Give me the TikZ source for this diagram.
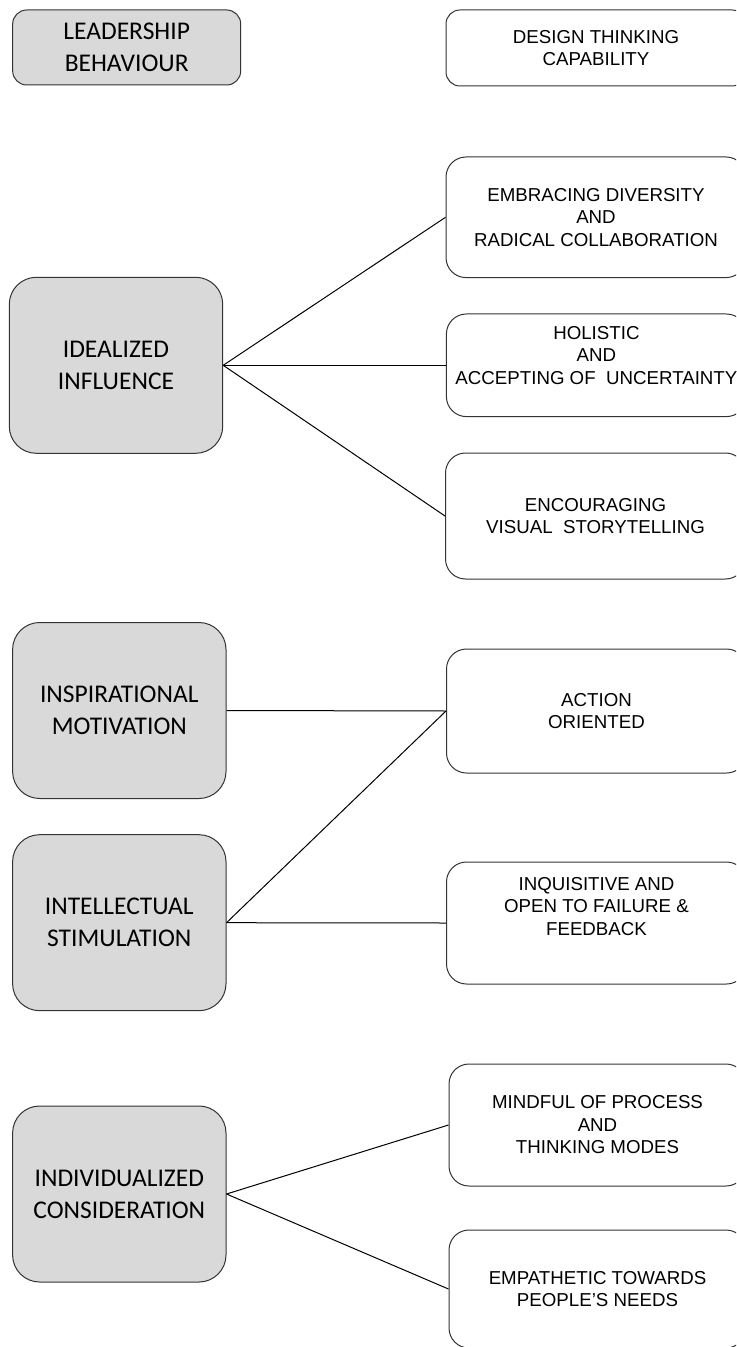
\documentclass[tikz,border=0pt]{standalone}
\usepackage{fontspec}
\newfontfamily\leftfont{Carlito}
\newfontfamily\rightfont{Liberation Sans}

\begin{document}
\begin{tikzpicture}[x=0.5pt,y=-0.5pt,
    lbox/.style={draw=black!80, line width=0.5pt, fill=gray!30, rounded corners=13.5pt,
        minimum width=106.7pt, minimum height=88pt, inner sep=0pt, align=center,
        font=\leftfont\fontsize{12.75}{16}\selectfont},
    rbox/.style={draw=black!80, line width=0.5pt, fill=white, rounded corners=10pt,
        minimum width=150pt, inner sep=0pt, align=center,
        font=\rightfont\fontsize{9.35}{11.25}\selectfont},
    link/.style={black, line width=0.5pt}]
    \useasboundingbox (0,0) rectangle (736,1347);
    \clip (0,0) rectangle (736,1347);

% left column
\node[lbox, minimum width=114pt, minimum height=37.5pt, rounded corners=7pt] (lead) at (126.7,47.5) {LEADERSHIP\\BEHAVIOUR};
\node[lbox] (ideal) at (116,365.3) {IDEALIZED\\INFLUENCE};
\node[lbox] (insp) at (119.3,710.5) {INSPIRATIONAL\\MOTIVATION};
\node[lbox] (intel) at (119.3,922.7) {INTELLECTUAL\\STIMULATION};
\node[lbox] (indiv) at (119.3,1194) {INDIVIDUALIZED\\CONSIDERATION};

% right column
\node[rbox, minimum height=38pt, rounded corners=7pt] (design) at (596,48) {DESIGN THINKING\\CAPABILITY};
\node[rbox, minimum height=60.3pt] (embr) at (596,217.3) {EMBRACING DIVERSITY\\AND\\RADICAL COLLABORATION};
\node[rbox, minimum height=51.3pt, text depth=10pt] (holis) at (596.4,365.3) {HOLISTIC\\AND\\ACCEPTING OF~ UNCERTAINTY};
\node[rbox, minimum height=63pt] (enc) at (595.5,516) {ENCOURAGING\\VISUAL~ STORYTELLING};
\node[rbox, minimum height=62pt] (action) at (596.5,711) {ACTION\\ORIENTED};
\node[rbox, minimum height=61pt, text depth=17pt] (inq) at (596.5,923) {INQUISITIVE AND\\OPEN TO FAILURE \&\\FEEDBACK};
\node[rbox, minimum height=61pt, minimum width=148.5pt] (mind) at (597.5,1125) {MINDFUL OF PROCESS\\AND\\THINKING MODES};
\node[rbox, minimum height=59pt, minimum width=148.5pt] (emp) at (597.5,1289) {EMPATHETIC TOWARDS\\PEOPLE’S NEEDS};

% links
\draw[link] (ideal.east) -- (embr.west);
\draw[link] (ideal.east) -- (holis.west);
\draw[link] (ideal.east) -- (enc.west);
\draw[link] (insp.east) -- (action.west);
\draw[link] (intel.east) -- (action.west);
\draw[link] (intel.east) -- (inq.west);
\draw[link] (indiv.east) -- (mind.west);
\draw[link] (indiv.east) -- (emp.west);

\end{tikzpicture}
\end{document}
